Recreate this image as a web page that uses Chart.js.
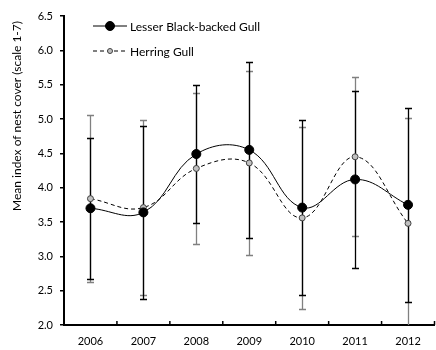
<!DOCTYPE html>
<html>
<head>
<meta charset="utf-8">
<script src="https://cdn.jsdelivr.net/npm/chart.js@4"></script>
<style>
  html, body { margin: 0; padding: 0; overflow: hidden; background: #fff; }
  #wrap { width: 440px; height: 350px; }
</style>
</head>
<body>
<div id="wrap"><canvas id="chart" width="440" height="350"></canvas></div>
<script>
const years = ['2006', '2007', '2008', '2009', '2010', '2011', '2012'];
const lbbgMean = [3.70, 3.64, 4.49, 4.55, 3.71, 4.12, 3.75];
const lbbgSD = [1.03, 1.26, 1.00, 1.28, 1.27, 1.29, 1.41];
const hgMean = [3.84, 3.71, 4.28, 4.36, 3.56, 4.45, 3.48];
const hgSD = [1.22, 1.27, 1.10, 1.34, 1.33, 1.16, 1.53];
const yTickValues = [2.0, 2.5, 3.0, 3.5, 4.0, 4.5, 5.0, 5.5, 6.0, 6.5];

const FONT = 'Lato, "Open Sans", sans-serif';

// error bars: herring gull (grey) underneath, lesser black-backed gull (black) on top
const errorBars = {
  id: 'errorBars',
  beforeDatasetsDraw(chart) {
    const { ctx, chartArea, scales: { x, y } } = chart;
    ctx.save();
    ctx.beginPath();
    ctx.rect(chartArea.left, chartArea.top - 10, chartArea.right - chartArea.left, chartArea.bottom - chartArea.top + 10);
    ctx.clip();
    const sets = [[hgMean, hgSD, '#808080'], [lbbgMean, lbbgSD, '#000']];
    sets.forEach(([means, sds, color]) => {
      ctx.strokeStyle = color;
      ctx.lineWidth = 1.3;
      means.forEach((m, i) => {
        const px = Math.round(x.getPixelForValue(i)) + 0.5;
        const top = Math.round(y.getPixelForValue(m + sds[i])) + 0.5;
        const bot = Math.round(y.getPixelForValue(m - sds[i])) + 0.5;
        ctx.beginPath();
        ctx.moveTo(px, top);
        ctx.lineTo(px, bot);
        ctx.moveTo(px - 3.5, top);
        ctx.lineTo(px + 3.5, top);
        ctx.moveTo(px - 3.5, bot);
        ctx.lineTo(px + 3.5, bot);
        ctx.stroke();
      });
    });
    ctx.restore();
  }
};

// small inward tick marks between the years
const xTicks = {
  id: 'xTicks',
  afterDraw(chart) {
    const { ctx, chartArea, scales: { x } } = chart;
    ctx.save();
    ctx.strokeStyle = '#000';
    ctx.lineWidth = 1.5;
    for (let i = 1; i <= years.length; i++) {
      const px = i < years.length
        ? (x.getPixelForValue(i - 1) + x.getPixelForValue(i)) / 2
        : x.getPixelForValue(i - 1) + (x.getPixelForValue(1) - x.getPixelForValue(0)) / 2;
      ctx.beginPath();
      ctx.moveTo(px, chartArea.bottom);
      ctx.lineTo(px, chartArea.bottom - 4);
      ctx.stroke();
    }
    ctx.restore();
  }
};

// Excel-style legend: line + marker + label
const legendBox = {
  id: 'legendBox',
  afterDraw(chart) {
    const { ctx } = chart;
    ctx.save();
    chart.data.datasets.forEach((ds, i) => {
      const ly = 26 + i * 25;
      ctx.strokeStyle = ds.borderColor;
      ctx.lineWidth = ds.borderWidth;
      ctx.setLineDash(ds.borderDash || []);
      ctx.beginPath();
      ctx.moveTo(93, ly);
      ctx.lineTo(127, ly);
      ctx.stroke();
      ctx.setLineDash([]);
      ctx.beginPath();
      ctx.arc(110, ly, i === 0 ? ds.pointRadius : 2.5, 0, Math.PI * 2);
      ctx.fillStyle = ds.pointBackgroundColor;
      ctx.fill();
      ctx.lineWidth = 1;
      ctx.strokeStyle = ds.pointBorderColor;
      ctx.stroke();
      ctx.fillStyle = '#000';
      ctx.font = '12px ' + FONT;
      ctx.textBaseline = 'middle';
      ctx.textAlign = 'left';
      ctx.fillText(ds.label, 130, ly + 1);
    });
    ctx.restore();
  }
};

const yTitle = {
  id: 'yTitle',
  afterDraw(chart) {
    const { ctx } = chart;
    ctx.save();
    ctx.translate(17, 116);
    ctx.rotate(-Math.PI / 2);
    ctx.fillStyle = '#000';
    ctx.font = '12px ' + FONT;
    ctx.textAlign = 'center';
    ctx.textBaseline = 'middle';
    ctx.fillText('Mean index of nest cover (scale 1-7)', 0, 0);
    ctx.restore();
  }
};

const ctx = document.getElementById('chart').getContext('2d');
new Chart(ctx, {
  type: 'line',
  data: {
    labels: years,
    datasets: [{
      label: 'Lesser Black-backed Gull',
      data: lbbgMean,
      borderColor: '#000',
      borderWidth: 1,
      tension: 0.4,
      pointRadius: 4.5,
      pointBackgroundColor: '#000',
      pointBorderColor: '#000',
      pointBorderWidth: 1
    }, {
      label: 'Herring Gull',
      data: hgMean,
      borderColor: '#000',
      borderWidth: 1,
      borderDash: [4, 3],
      tension: 0.4,
      pointRadius: 3,
      pointBackgroundColor: '#c0c0c0',
      pointBorderColor: '#404040',
      pointBorderWidth: 1
    }]
  },
  options: {
    responsive: false,
    animation: false,
    layout: { padding: { left: 0, top: 16, right: 0, bottom: 0 } },
    plugins: {
      legend: { display: false },
      tooltip: { enabled: false }
    },
    scales: {
      x: {
        offset: true,
        grid: { display: false, drawTicks: false },
        border: { display: true, color: '#000', width: 2 },
        ticks: { color: '#000', font: { family: FONT, size: 11 }, padding: 10 },
        afterFit: s => { s.height = 25; }
      },
      y: {
        min: 2,
        max: 6.5,
        afterBuildTicks: s => { s.ticks = yTickValues.map(v => ({ value: v })); },
        grid: { drawOnChartArea: false, drawTicks: true, tickLength: 4, color: '#000', lineWidth: 1.5 },
        border: { display: true, color: '#000', width: 2 },
        ticks: {
          color: '#000',
          font: { family: FONT, size: 11 },
          padding: 7,
          callback: v => Number(v).toFixed(1)
        },
        afterFit: s => { s.width = 64; }
      }
    }
  },
  plugins: [errorBars, xTicks, legendBox, yTitle]
});
</script>
</body>
</html>
